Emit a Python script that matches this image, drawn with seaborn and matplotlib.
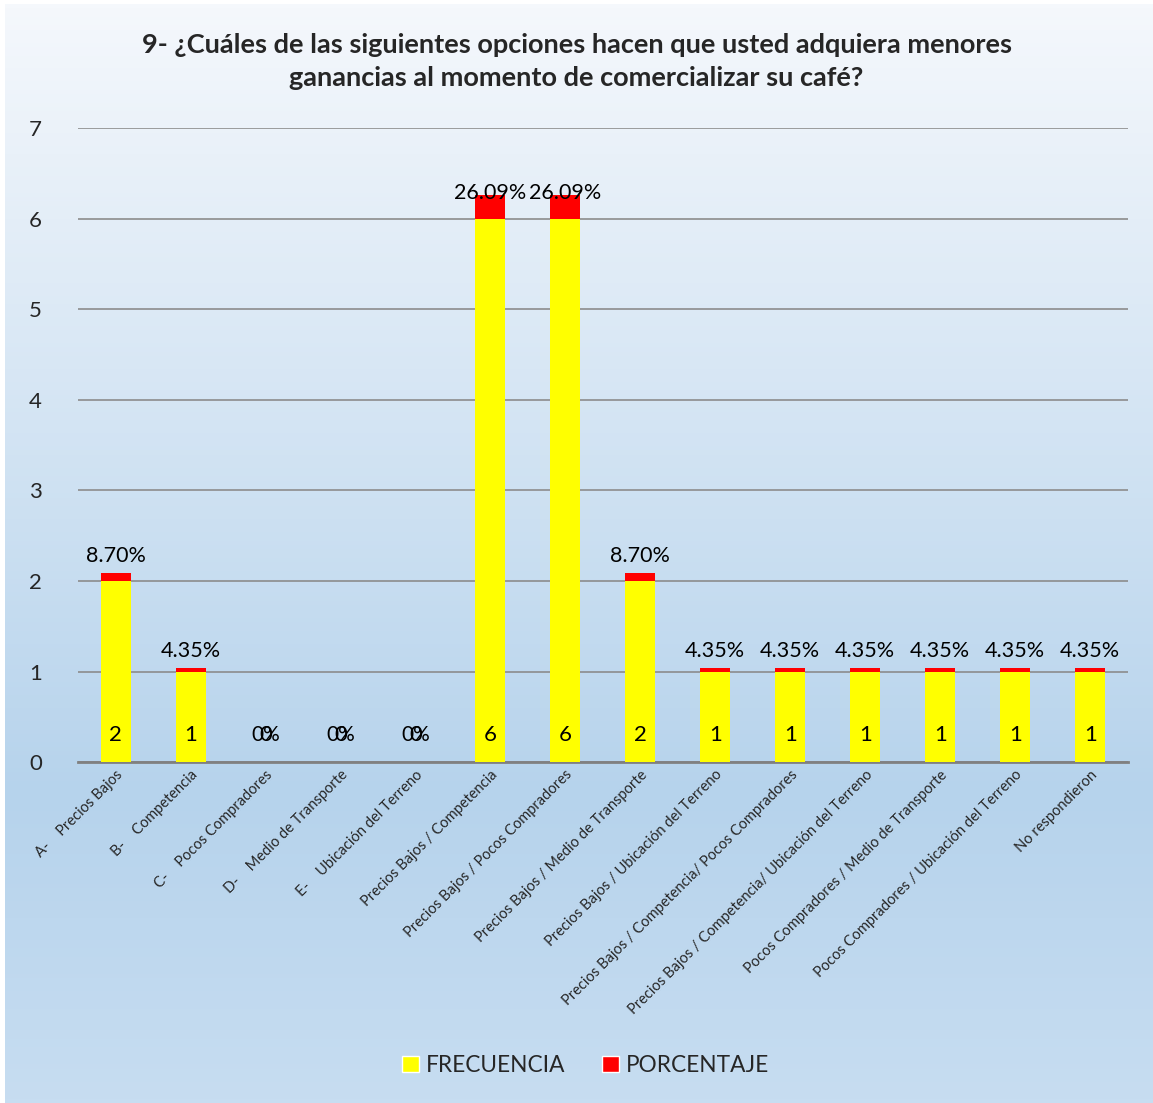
import numpy as np
import pandas as pd
import matplotlib
matplotlib.use("Agg")
import matplotlib.pyplot as plt
from matplotlib.colors import LinearSegmentedColormap
from matplotlib.patches import Patch
import seaborn as sns

categories = [
    "A-    Precios Bajos",
    "B-    Competencia",
    "C-    Pocos Compradores",
    "D-    Medio de Transporte",
    "E-    Ubicación del Terreno",
    "Precios Bajos / Competencia",
    "Precios Bajos / Pocos Compradores",
    "Precios Bajos / Medio de Transporte",
    "Precios Bajos / Ubicación del Terreno",
    "Precios Bajos / Competencia/ Pocos Compradores",
    "Precios Bajos / Competencia/ Ubicación del Terreno",
    "Pocos Compradores / Medio de Transporte",
    "Pocos Compradores / Ubicación del Terreno",
    "No respondieron",
]
frecuencia = [2, 1, 0, 0, 0, 6, 6, 2, 1, 1, 1, 1, 1, 1]
porcentaje = [0.0870, 0.0435, 0, 0, 0, 0.2609, 0.2609, 0.0870,
              0.0435, 0.0435, 0.0435, 0.0435, 0.0435, 0.0435]
pct_labels = ["8.70%", "4.35%", "0%", "0%", "0%", "26.09%", "26.09%", "8.70%",
              "4.35%", "4.35%", "4.35%", "4.35%", "4.35%", "4.35%"]

sns.set_style("white")
plt.rcParams['font.family'] = ['Lato', 'DejaVu Sans']

df = pd.DataFrame({"cat": categories, "freq": frecuencia, "pct": porcentaje})
df["total"] = df["freq"] + df["pct"]

fig = plt.figure(figsize=(11.53, 11.03), dpi=100)

# background gradient
bg = fig.add_axes([0.004, 0, 0.996, 0.996], zorder=-10)
cmap = LinearSegmentedColormap.from_list(
    "bg", [(0, "#f5f8fc"), (0.72, "#b6d3ec"), (1, "#c7ddf1")])
grad = np.linspace(0, 1, 256).reshape(-1, 1)
bg.imshow(grad, aspect="auto", cmap=cmap, extent=[0, 1, 0, 1], origin="upper")
bg.axis("off")

ax = fig.add_axes([0.0677, 0.309, 0.9103, 0.575])
ax.patch.set_alpha(0)

sns.barplot(data=df, x="cat", y="total", color="#ff0000", width=0.4,
            saturation=1, linewidth=0, ax=ax, zorder=3)
sns.barplot(data=df, x="cat", y="freq", color="#ffff00", width=0.4,
            saturation=1, linewidth=0, ax=ax, zorder=4)

ax.set_ylim(0, 7)
ax.set_xlim(-0.5, len(categories) - 0.5)
ax.set_yticks(range(0, 8))
ax.grid(axis="y", color="#8c8c8c", linewidth=1.2, zorder=0)
ax.set_axisbelow(True)
for s in ["top", "right", "left"]:
    ax.spines[s].set_visible(False)
ax.spines["bottom"].set_color("#808080")
ax.spines["bottom"].set_linewidth(2)
ax.tick_params(axis="y", length=0, pad=26, labelsize=16)
ax.tick_params(axis="x", length=0, pad=4)
ax.set_xlabel("")
ax.set_ylabel("")
ax.set_xticks(range(len(categories)))
ax.set_xticklabels(categories, rotation=45, ha="right", rotation_mode="anchor",
                   fontsize=10.5)

for i, (f, t, lab) in enumerate(zip(frecuencia, df["total"], pct_labels)):
    ax.text(i, 0.3, str(f), ha="center", va="center", fontsize=16,
            color="black", zorder=6)
    if f == 0:
        ax.text(i, 0.3, lab, ha="center", va="center", fontsize=15,
                color="black", zorder=6)
    elif t > 6:
        # tall bars: label sits on the bar top
        ax.text(i, t + 0.02, lab, ha="center", va="center", fontsize=15.5,
                color="black", zorder=6)
    else:
        ax.annotate(lab, (i, t), xytext=(0, 5), textcoords="offset points",
                    ha="center", va="bottom", fontsize=15.5, color="black",
                    zorder=6)

fig.text(0.5, 0.944,
         "9- ¿Cuáles de las siguientes opciones hacen que usted adquiera menores\n"
         "ganancias al momento de comercializar su café?",
         ha="center", va="center", fontsize=19.5, fontweight="bold",
         linespacing=1.45)

handles = [Patch(facecolor="#ffff00", label="FRECUENCIA"),
           Patch(facecolor="#ff0000", label="PORCENTAJE")]
fig.legend(handles=handles, loc="center", bbox_to_anchor=(0.508, 0.034), ncol=2,
           frameon=False, fontsize=16.3, handlelength=0.75, handleheight=0.75,
           handletextpad=0.3, columnspacing=1.6)

fig.savefig("out.png", dpi=100)
